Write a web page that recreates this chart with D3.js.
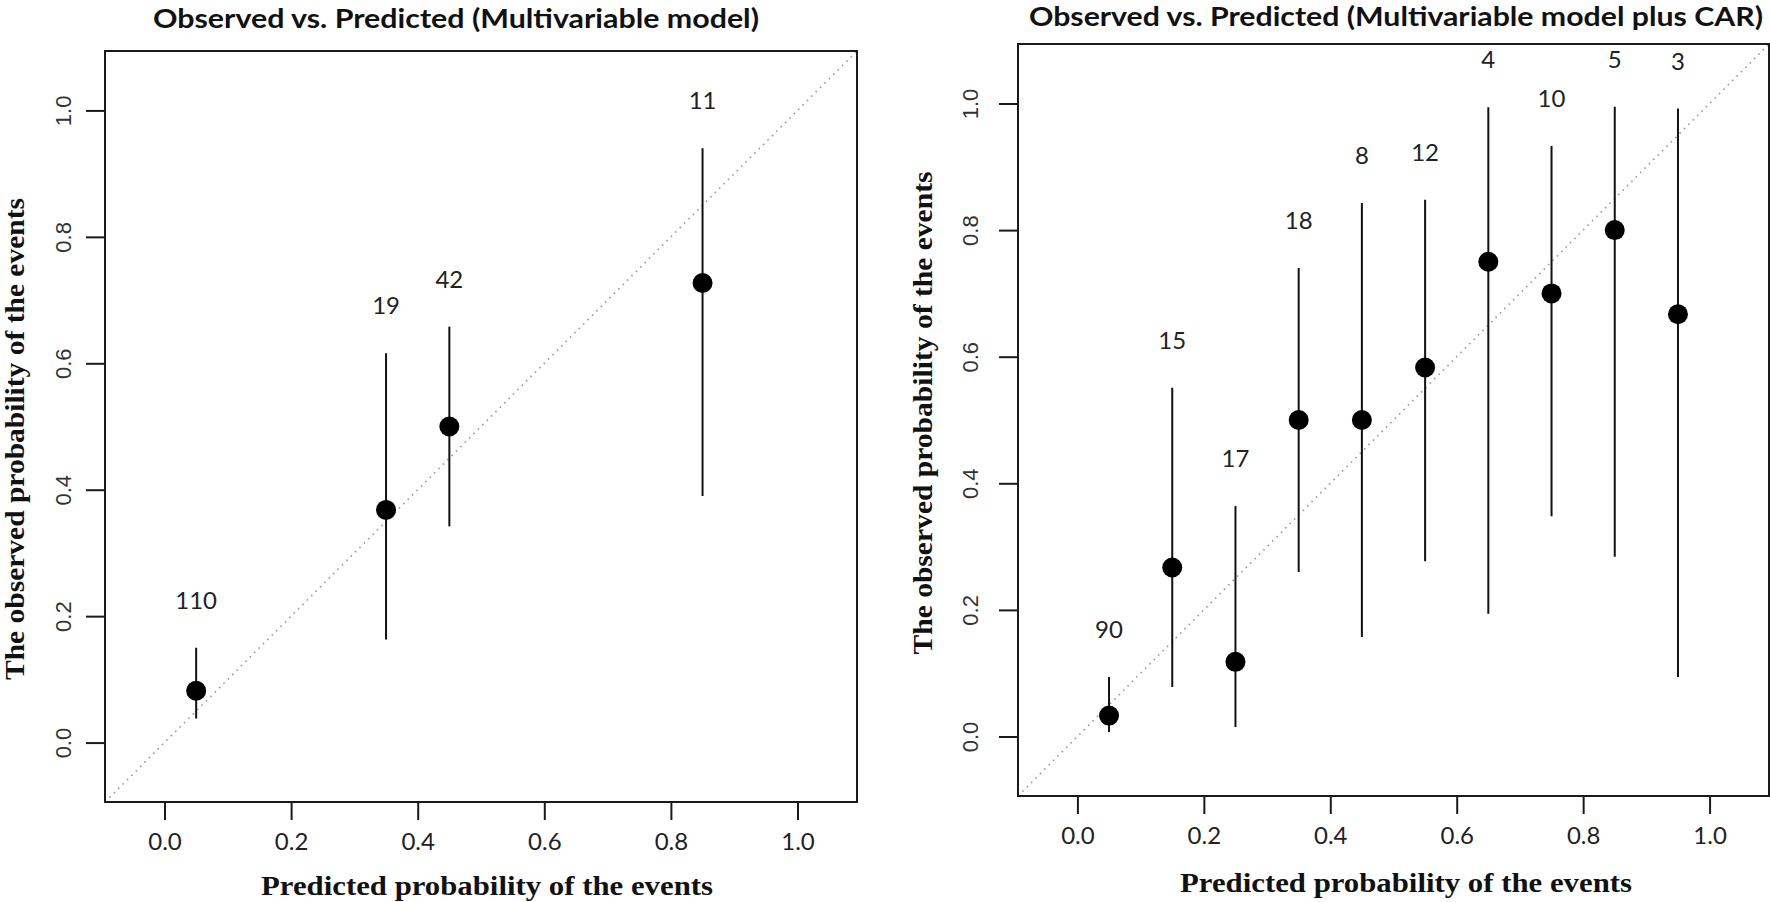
<!DOCTYPE html>
<html>
<head>
<meta charset="utf-8">
<script src="https://cdn.jsdelivr.net/npm/d3@7"></script>
<style>
  html, body { margin: 0; padding: 0; background: #fff; }
  svg { display: block; }
</style>
</head>
<body>
<svg id="chart" width="1770" height="902"></svg>
<script>
// ---------- data ----------
const tickValues = [0.0, 0.2, 0.4, 0.6, 0.8, 1.0];

const leftTitle = "Observed vs. Predicted (Multivariable model)";
const leftPred  = [0.05, 0.35, 0.45, 0.85];
const leftObs   = [0.082, 0.368, 0.500, 0.727];
const leftLower = [0.038, 0.163, 0.342, 0.390];
const leftUpper = [0.150, 0.616, 0.658, 0.940];
const leftN     = [110, 19, 42, 11];

const rightTitle = "Observed vs. Predicted (Multivariable model plus CAR)";
const rightPred  = [0.05, 0.15, 0.25, 0.35, 0.45, 0.55, 0.65, 0.75, 0.85, 0.95];
const rightObs   = [0.033, 0.267, 0.118, 0.500, 0.500, 0.583, 0.750, 0.700, 0.800, 0.667];
const rightLower = [0.007, 0.078, 0.015, 0.260, 0.157, 0.277, 0.194, 0.348, 0.284, 0.094];
const rightUpper = [0.094, 0.551, 0.364, 0.740, 0.843, 0.848, 0.994, 0.933, 0.995, 0.992];
const rightN     = [90, 15, 17, 18, 8, 12, 4, 10, 5, 3];

const xLabel = "Predicted  probability  of the  events";
const yLabel = "The  observed probability  of the events";
const axisDomain = [-0.094, 1.094];

// ---------- layout ----------
const panels = [
  { title: leftTitle, pred: leftPred, obs: leftObs, lo: leftLower, hi: leftUpper, n: leftN,
    box: { x0: 105, x1: 857, y0: 51, y1: 802 },
    titleX: 456, titleY: 28, titleLen: 606,
    xLabX: 487, xLabY: 895, xLabLen: 452,
    yLabX: 14, yLabY: 439, yLabLen: 482,
    yTickOff: 42 },
  { title: rightTitle, pred: rightPred, obs: rightObs, lo: rightLower, hi: rightUpper, n: rightN,
    box: { x0: 1018, x1: 1769, y0: 44, y1: 796 },
    titleX: 1396, titleY: 26, titleLen: 734,
    xLabX: 1406, xLabY: 892, xLabLen: 452,
    yLabX: 922, yLabY: 413, yLabLen: 483,
    yTickOff: 48 }
];

const svg = d3.select("#chart");
svg.append("rect").attr("width", 1770).attr("height", 902).attr("fill", "#fff");

panels.forEach(p => {
  const g = svg.append("g");
  const x = d3.scaleLinear().domain(axisDomain).range([p.box.x0, p.box.x1]);
  const y = d3.scaleLinear().domain(axisDomain).range([p.box.y1, p.box.y0]);

  // title
  g.append("text")
    .attr("x", p.titleX).attr("y", p.titleY)
    .attr("text-anchor", "middle")
    .attr("font-family", "Lato, 'Open Sans', sans-serif")
    .attr("font-weight", 700)
    .attr("font-size", 26)
    .attr("fill", "#111")
    .attr("textLength", p.titleLen)
    .attr("lengthAdjust", "spacingAndGlyphs")
    .text(p.title);

  // diagonal reference line
  g.append("line")
    .attr("x1", x(axisDomain[0])).attr("y1", y(axisDomain[0]))
    .attr("x2", x(axisDomain[1])).attr("y2", y(axisDomain[1]))
    .attr("stroke", "#9a9a9a")
    .attr("stroke-width", 1.6)
    .attr("stroke-dasharray", "1.6,4.6");

  // x axis
  const xa = g.append("g")
    .attr("transform", `translate(0,${p.box.y1})`)
    .call(d3.axisBottom(x).tickValues(tickValues).tickFormat(d3.format(".1f"))
      .tickSize(18).tickSizeOuter(0).tickPadding(13));
  xa.select(".domain").remove();
  xa.selectAll(".tick line").attr("stroke", "#1a1a1a").attr("stroke-width", 2);
  xa.selectAll(".tick text")
    .attr("font-family", "Lato, 'Open Sans', sans-serif")
    .attr("font-size", 24)
    .attr("fill", "#222");

  // y axis
  const ya = g.append("g")
    .attr("transform", `translate(${p.box.x0},0)`)
    .call(d3.axisLeft(y).tickValues(tickValues).tickFormat(d3.format(".1f"))
      .tickSize(19).tickSizeOuter(0));
  ya.select(".domain").remove();
  ya.selectAll(".tick line").attr("stroke", "#1a1a1a").attr("stroke-width", 2);
  ya.selectAll(".tick text")
    .attr("x", null).attr("dy", "0.36em")
    .attr("text-anchor", "middle")
    .attr("transform", `translate(${-p.yTickOff},0) rotate(-90)`)
    .attr("font-family", "'Liberation Sans', Arial, sans-serif")
    .attr("font-size", 22)
    .attr("fill", "#333");

  // box
  g.append("rect")
    .attr("x", p.box.x0).attr("y", p.box.y0)
    .attr("width", p.box.x1 - p.box.x0).attr("height", p.box.y1 - p.box.y0)
    .attr("fill", "none").attr("stroke", "#1a1a1a").attr("stroke-width", 2);

  // axis titles
  g.append("text")
    .attr("x", p.xLabX).attr("y", p.xLabY)
    .attr("text-anchor", "middle")
    .attr("font-family", "'Liberation Serif', 'Times New Roman', serif")
    .attr("font-weight", 700)
    .attr("font-size", 27)
    .attr("fill", "#111")
    .attr("textLength", p.xLabLen)
    .attr("lengthAdjust", "spacingAndGlyphs")
    .text(xLabel);

  g.append("text")
    .attr("transform", `translate(${p.yLabX},${p.yLabY}) rotate(-90)`)
    .attr("dy", "0.36em")
    .attr("text-anchor", "middle")
    .attr("font-family", "'Liberation Serif', 'Times New Roman', serif")
    .attr("font-weight", 700)
    .attr("font-size", 27)
    .attr("fill", "#111")
    .attr("textLength", p.yLabLen)
    .attr("lengthAdjust", "spacingAndGlyphs")
    .text(yLabel);

  // data
  const idx = d3.range(p.pred.length);

  g.selectAll("line.ci").data(idx).join("line")
    .attr("class", "ci")
    .attr("x1", i => x(p.pred[i])).attr("x2", i => x(p.pred[i]))
    .attr("y1", i => y(p.lo[i])).attr("y2", i => y(p.hi[i]))
    .attr("stroke", "#111").attr("stroke-width", 2);

  g.selectAll("circle.pt").data(idx).join("circle")
    .attr("class", "pt")
    .attr("cx", i => x(p.pred[i])).attr("cy", i => y(p.obs[i]))
    .attr("r", 10)
    .attr("fill", "#000");

  g.selectAll("text.n").data(idx).join("text")
    .attr("class", "n")
    .attr("x", i => x(p.pred[i]))
    .attr("y", i => y(p.hi[i]) - 39)
    .attr("text-anchor", "middle")
    .attr("font-family", "Lato, 'Open Sans', sans-serif")
    .attr("font-size", 24)
    .attr("fill", "#222")
    .text(i => p.n[i]);
});
</script>
</body>
</html>
